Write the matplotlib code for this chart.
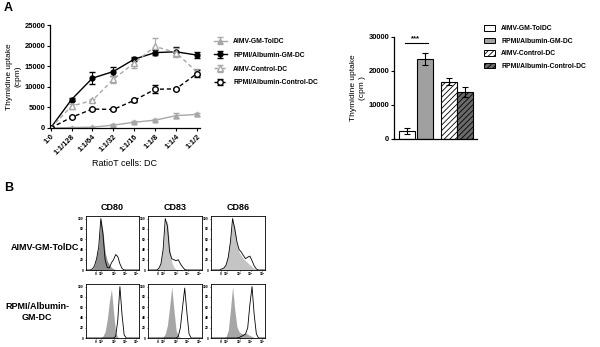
import numpy as np
import matplotlib
matplotlib.use("Agg")
import matplotlib.pyplot as plt
from matplotlib.patches import Patch

plt.rcParams['font.family'] = ['Liberation Sans', 'DejaVu Sans']
plt.rcParams['font.weight'] = 'bold'
plt.rcParams['hatch.linewidth'] = 0.6

# ---- panel A, left: proliferation vs ratio
ratio_labels = ['1:0', '1:1/128', '1:1/64', '1:1/32', '1:1/16', '1:1/8', '1:1/4', '1:1/2']
tol_dc = [0, 100, 200, 700, 1400, 1900, 3000, 3300]
tol_dc_err = [0, 100, 100, 200, 200, 200, 600, 300]
gm_dc = [0, 6900, 12100, 13700, 16700, 18300, 18500, 17700]
gm_dc_err = [0, 300, 1500, 1000, 500, 700, 1100, 800]
aimv_ctrl = [0, 5300, 6700, 11800, 15800, 19800, 18300, 13600]
aimv_ctrl_err = [0, 600, 300, 800, 1300, 2000, 1000, 600]
rpmi_ctrl = [0, 2600, 4600, 4500, 6700, 9400, 9500, 13200]
rpmi_ctrl_err = [0, 200, 200, 200, 300, 1000, 300, 800]

# ---- panel A, right: bars
bar_names = ['AIMV-GM-TolDC', 'RPMI/Albumin-GM-DC', 'AIMV-Control-DC', 'RPMI/Albumin-Control-DC']
bar_vals = [2250, 23500, 16900, 13800]
bar_err = [900, 1800, 1000, 1500]

# ---- panel B: flow histograms (% of max), x in display channels 0-100
hist_x = [0, 4, 8, 12, 16, 20, 24, 28, 32, 36, 40, 44, 48, 52, 56, 60, 64, 68, 72, 76, 80, 84, 88, 92, 96, 100]
tol_cd80_iso = [0, 0, 0, 2, 8, 25, 45, 100, 75, 35, 18, 10, 5, 2, 1, 0, 0, 0, 0, 0, 0, 0, 0, 0, 0, 0]
tol_cd80_stain = [0, 0, 0, 2, 8, 22, 45, 100, 70, 20, 5, 4, 14, 20, 30, 26, 12, 3, 0, 0, 0, 0, 0, 0, 0, 0]
tol_cd83_iso = [0, 0, 0, 0, 0, 3, 15, 45, 90, 95, 45, 15, 5, 1, 0, 0, 0, 0, 0, 0, 0, 0, 0, 0, 0, 0]
tol_cd83_stain = [0, 0, 0, 0, 0, 3, 12, 40, 100, 85, 35, 22, 20, 18, 20, 12, 6, 1, 0, 0, 0, 0, 0, 0, 0, 0]
tol_cd86_iso = [0, 0, 0, 0, 0, 2, 5, 12, 30, 60, 95, 85, 50, 35, 28, 22, 18, 14, 10, 6, 3, 1, 0, 0, 0, 0]
tol_cd86_stain = [0, 0, 0, 0, 0, 2, 4, 10, 25, 55, 100, 80, 55, 40, 35, 28, 22, 25, 27, 18, 8, 2, 0, 0, 0, 0]
gm_cd80_iso = [0, 0, 0, 0, 0, 0, 0, 0, 4, 12, 35, 70, 95, 50, 10, 2, 0, 0, 0, 0, 0, 0, 0, 0, 0, 0]
gm_cd80_stain = [0, 0, 0, 0, 0, 0, 0, 0, 0, 0, 0, 0, 0, 0, 3, 35, 100, 45, 6, 0, 0, 0, 0, 0, 0, 0]
gm_cd83_iso = [0, 0, 0, 0, 0, 0, 0, 2, 8, 25, 60, 100, 55, 15, 4, 1, 0, 0, 0, 0, 0, 0, 0, 0, 0, 0]
gm_cd83_stain = [0, 0, 0, 0, 0, 0, 0, 0, 0, 0, 0, 0, 0, 0, 3, 20, 60, 97, 50, 8, 0, 0, 0, 0, 0, 0]
gm_cd86_iso = [0, 0, 0, 0, 0, 0, 0, 3, 15, 55, 100, 55, 22, 12, 9, 8, 10, 7, 5, 3, 1, 0, 0, 0, 0, 0]
gm_cd86_stain = [0, 0, 0, 0, 0, 0, 0, 0, 0, 0, 0, 0, 0, 1, 3, 5, 8, 20, 65, 100, 45, 8, 0, 0, 0, 0]

hist_ticks = [18, 29, 53, 74, 95]
hist_ticklabels = ['0', '10²', '10³', '10⁴', '10⁵']
markers = ['CD80', 'CD83', 'CD86']

W, H = 600, 347
fig = plt.figure(figsize=(6.0, 3.47), dpi=100)


def px_axes(x0, y0, x1, y1):
    # pixel box (top-left origin) -> figure axes
    return fig.add_axes([x0 / W, 1 - y1 / H, (x1 - x0) / W, (y1 - y0) / H])


# ---------------- line chart
ax = px_axes(50, 25, 200, 128)
xs = np.arange(len(ratio_labels))
lgray = '#a8a8a8'
ax.errorbar(xs, tol_dc, yerr=tol_dc_err, color=lgray, marker='^', ms=3.5, mfc=lgray,
            mec=lgray, lw=1, capsize=2, elinewidth=0.8, label='AIMV-GM-TolDC')
ax.errorbar(xs, gm_dc, yerr=gm_dc_err, color='black', marker='o', ms=3.5, mfc='black',
            lw=1, capsize=2, elinewidth=0.8, label='RPMI/Albumin-GM-DC')
ax.errorbar(xs, aimv_ctrl, yerr=aimv_ctrl_err, color=lgray, marker='^', ms=4, mfc='white',
            mec=lgray, lw=1, ls=(0, (3, 2)), capsize=2, elinewidth=0.8, label='AIMV-Control-DC')
ax.errorbar(xs, rpmi_ctrl, yerr=rpmi_ctrl_err, color='black', marker='o', ms=4, mfc='white',
            mec='black', lw=1, ls=(0, (3, 2)), capsize=2, elinewidth=0.8,
            label='RPMI/Albumin-Control-DC')
ax.set_xlim(-0.03, 7.15)
ax.set_ylim(0, 25000)
ax.set_yticks([0, 5000, 10000, 15000, 20000, 25000])
ax.set_xticks(xs)
ax.set_xticklabels(ratio_labels, rotation=45, ha='right', rotation_mode='anchor')
ax.tick_params(labelsize=5.4, length=2, width=0.8, pad=1.5)
for s in ['top', 'right']:
    ax.spines[s].set_visible(False)
for s in ['left', 'bottom']:
    ax.spines[s].set_linewidth(0.9)
ax.set_ylabel('Thymidine uptake\n(cpm)', fontsize=6, labelpad=2, linespacing=1.3)
ax.set_xlabel('RatioT cells: DC', fontsize=6.5, labelpad=2)

h, l = ax.get_legend_handles_labels()
fig.legend(h, l, loc='upper left', bbox_to_anchor=(214 / W, 1 - 38 / H), frameon=False,
           fontsize=4.9, handlelength=1.9, labelspacing=1.0, handletextpad=0.9,
           borderaxespad=0, borderpad=0)

# ---------------- bar chart
bx = px_axes(394, 37, 477, 139)
pos = [0, 1.1, 2.6, 3.6]
colors = ['white', '#a0a0a0', 'white', '#6a6a6a']
hatches = ['', '', '//////', '//////']
bars = bx.bar(pos, bar_vals, width=1.0, color=colors, edgecolor='black', linewidth=0.8,
              yerr=bar_err, error_kw=dict(elinewidth=0.8, capsize=2, capthick=0.8))
for b, hh in zip(bars, hatches):
    b.set_hatch(hh)
bx.set_xlim(-0.81, 4.38)
bx.set_ylim(0, 30000)
bx.set_yticks([0, 10000, 20000, 30000])
bx.set_xticks([])
bx.tick_params(labelsize=5.4, length=2, width=0.8, pad=1.5)
for s in ['top', 'right']:
    bx.spines[s].set_visible(False)
for s in ['left', 'bottom']:
    bx.spines[s].set_linewidth(0.9)
bx.set_ylabel('Thymidine uptake\n(cpm )', fontsize=6, labelpad=2, linespacing=1.3)
bx.plot([pos[0] - 0.15, pos[1] + 0.2], [28200, 28200], color='black', lw=0.8)
bx.text((pos[0] + pos[1]) / 2, 28400, '***', ha='center', va='bottom', fontsize=5.5)

bh = [Patch(facecolor=c, edgecolor='black', hatch=hh, linewidth=0.7)
      for c, hh in zip(colors, hatches)]
fig.legend(bh, bar_names, loc='upper left', bbox_to_anchor=(484 / W, 1 - 25 / H),
           frameon=False, fontsize=4.9, handlelength=1.6, handleheight=0.9,
           labelspacing=0.8, handletextpad=0.9, borderaxespad=0, borderpad=0)

# ---------------- panel B histograms
cols = [(86, 139), (148, 202), (211, 265)]
rows = [(216, 270), (284, 338)]
row_data = [
    [(tol_cd80_iso, tol_cd80_stain, '#8e8e8e'),
     (tol_cd83_iso, tol_cd83_stain, '#c4c4c4'),
     (tol_cd86_iso, tol_cd86_stain, '#c4c4c4')],
    [(gm_cd80_iso, gm_cd80_stain, '#a6a6a6'),
     (gm_cd83_iso, gm_cd83_stain, '#a6a6a6'),
     (gm_cd86_iso, gm_cd86_stain, '#a6a6a6')],
]
for r, (y0, y1) in enumerate(rows):
    for c, (x0, x1) in enumerate(cols):
        hax = px_axes(x0, y0, x1, y1)
        iso, stain, fc = row_data[r][c]
        hax.fill_between(hist_x, iso, color=fc, lw=0)
        hax.plot(hist_x, stain, color='black', lw=0.6)
        hax.set_xlim(0, 100)
        hax.set_ylim(0, 105)
        hax.set_xticks(hist_ticks)
        hax.set_xticklabels(hist_ticklabels)
        hax.set_yticks([0, 20, 40, 60, 80, 100])
        hax.tick_params(labelsize=2.4, length=1, width=0.4, pad=0.5)
        for s in hax.spines.values():
            s.set_linewidth(0.6)
        if r == 0:
            hax.set_title(markers[c], fontsize=6.5, fontweight='bold', pad=4)

fig.text(79 / W, 1 - 247 / H, 'AIMV-GM-TolDC', ha='right', va='center', fontsize=6.5)
fig.text(37 / W, 1 - 312 / H, 'RPMI/Albumin-\nGM-DC', ha='center', va='center',
         fontsize=6.5, linespacing=1.4)

fig.text(4 / W, 1 - 8 / H, 'A', fontsize=9, fontweight='bold', va='center')
fig.text(4 / W, 1 - 188 / H, 'B', fontsize=9, fontweight='bold', va='center')

fig.savefig('out.png', dpi=100)
